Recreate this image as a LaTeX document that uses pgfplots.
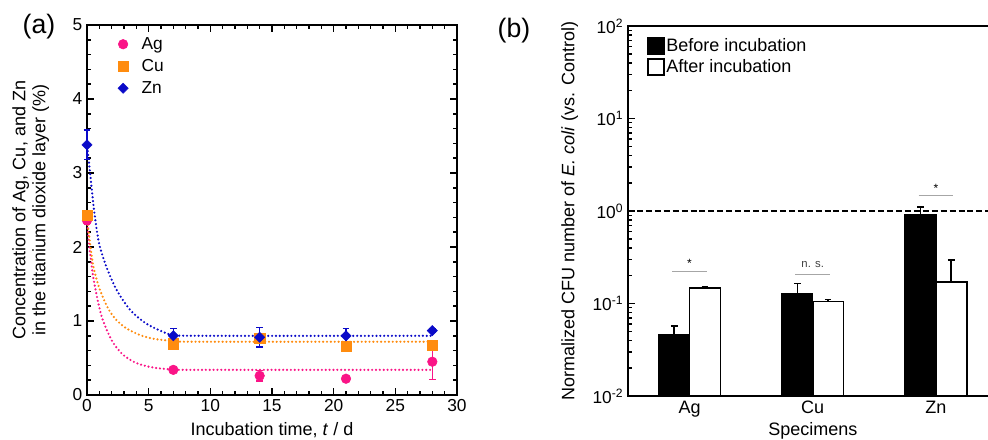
\documentclass[border=0pt]{standalone}
\usepackage{fontspec}
\setmainfont{Liberation Sans}
\usepackage{pgfplots}
\pgfplotsset{compat=1.18}
\definecolor{cAg}{RGB}{250,20,135}
\definecolor{cCu}{RGB}{255,140,15}
\definecolor{cZn}{RGB}{10,10,200}
\tikzset{fitdots/.style={line width=1.8pt, line cap=round, dash pattern=on 0pt off 2.9pt}}
\pgfplotsset{
  panel/.style={
    scale only axis,
    tick align=inside,
    major tick length=5pt, minor tick length=3pt,
    every tick/.style={black, line width=1.1pt},
    axis line style={line width=1.5pt},
    ticklabel style={font=\fontsize{13}{15}\selectfont},
    /pgf/number format/assume math mode=true,
    every axis x label/.style={font=\fontsize{13.5}{15}\selectfont, anchor=center},
    every axis y label/.style={font=\fontsize{13.5}{15}\selectfont, anchor=center, rotate=90, align=center},
  },
  errA/.style={error bars/.cd, y dir=both, y explicit,
    error bar style={line width=1pt},
    error mark options={rotate=90, mark size=2.5pt, line width=1pt}},
  errB/.style={error bars/.cd, y dir=plus, y explicit,
    error bar style={line width=1.2pt, black},
    error mark options={rotate=90, mark size=2.5pt, line width=1.2pt, black}},
}
\begin{document}
\begin{tikzpicture}
\path[use as bounding box, clip] (0,0) rectangle (741pt,329.25pt);

% (a) concentration vs incubation time
\begin{axis}[panel,
  at={(65.25pt,33pt)}, anchor=south west,
  width=277.5pt, height=277.5pt,
  xmin=0, xmax=30, ymin=0, ymax=5,
  xtick={0,5,...,30}, ytick={0,1,...,5},
  minor x tick num=4, minor y tick num=4,
  xlabel={Incubation time, \textit{t} / d},
  ylabel={Concentration of Ag, Cu, and Zn\\in the titanium dioxide layer (\%)},
  x label style={at={(axis description cs:0.5,-0.095)}},
  y label style={at={(axis description cs:-0.152,0.5)}},
  legend image code/.code={\draw[#1] plot coordinates {(0.2cm,0cm)};},
  legend style={at={(0.072,0.982)}, anchor=north west, draw=none, fill=none,
    font=\fontsize{13}{15}\selectfont, cells={anchor=west}, row sep=2pt,
    /tikz/every odd column/.append style={column sep=8pt}},
  clip=false,
]
\addplot[cAg, fitdots, smooth, forget plot] coordinates {
  (0,2.36) (0.19,2.0) (0.33,1.82) (0.46,1.64) (0.65,1.46) (0.92,1.24)
  (1.19,1.06) (1.6,0.88) (2.14,0.70) (2.95,0.54) (4.03,0.43) (5.4,0.37)
  (7,0.345) (9,0.34) (28,0.34)};
\addplot[cCu, fitdots, smooth, forget plot] coordinates {
  (0,2.40) (0.25,2.05) (0.5,1.75) (0.8,1.55) (1.05,1.42) (1.45,1.26)
  (1.85,1.13) (2.4,1.01) (3.2,0.90) (4.3,0.81) (5.4,0.76) (7,0.73)
  (9,0.72) (28,0.72)};
\addplot[cZn, fitdots, smooth, forget plot] coordinates {
  (0,3.40) (0.25,3.0) (0.5,2.6) (0.8,2.22) (1.05,2.0) (1.6,1.72)
  (2.4,1.42) (3.5,1.15) (4.85,0.96) (6.5,0.83) (7,0.815) (9,0.80) (28,0.80)};

\addplot[cAg, only marks, mark=*, mark size=3.6pt, errA] coordinates {
  (0,2.36) +- (0,0.05) (7,0.34) +- (0,0.03) (14,0.26) +- (0,0.07)
  (21,0.22) +- (0,0.04) (28,0.45) +- (0,0.24)};
\addlegendentry{Ag}
\addplot[cCu, only marks, mark=square*, mark size=3.9pt, errA] coordinates {
  (0,2.43) +- (0,0.05) (7,0.69) +- (0,0.03) (14,0.77) +- (0,0.06)
  (21,0.66) +- (0,0.03) (28,0.67) +- (0,0.05)};
\addlegendentry{Cu}
\addplot[cZn, only marks, mark=square*, mark options={rotate=45}, mark size=2.7pt, errA] coordinates {
  (0,3.38) +- (0,0.2) (7,0.80) +- (0,0.1) (14,0.78) +- (0,0.13)
  (21,0.80) +- (0,0.1) (28,0.87) +- (0,0.02)};
\addlegendentry{Zn}
\end{axis}

% (b) normalized CFU, log scale; bars sit at category -/+ 0.125
\begin{axis}[panel,
  at={(471pt,32.25pt)}, anchor=south west,
  width=281.7pt, height=277.5pt,
  xmin=-0.5, xmax=2.55,
  ymode=log, ymin=0.01, ymax=100, log origin=infty,
  xtick={0,1,2}, xticklabels={Ag,Cu,Zn},
  x tick label style={font=\fontsize{13.5}{15}\selectfont},
  xtick style={draw=none},
  ytick={0.01,0.1,1,10,100},
  yticklabels={10\textsuperscript{-2},10\textsuperscript{-1},10\textsuperscript{0},10\textsuperscript{1},10\textsuperscript{2}},
  ytick pos=left,
  xlabel={Specimens},
  ylabel={Normalized CFU number of \textit{E. coli} (vs. Control)},
  x label style={at={(axis description cs:0.4925,-0.095)}},
  y label style={at={(axis description cs:-0.155,0.5)}},
  legend image code/.code={\draw[#1, line width=1.1pt] (0pt,-6pt) rectangle (12pt,6pt);},
  legend style={at={(0.04,0.978)}, anchor=north west, draw=none, fill=none,
    font=\fontsize{13.5}{15}\selectfont, cells={anchor=west},
    nodes={inner sep=1.2pt}, row sep=2pt},
]
\addplot[ybar, bar width=0.25, bar shift=0pt, fill=black, draw=black, line width=1pt, errB]
  coordinates {(-0.125,0.0457) +- (0,0.0113) (0.875,0.129) +- (0,0.036) (1.875,0.905) +- (0,0.205)};
\addlegendentry{Before incubation}
\addplot[ybar, bar width=0.25, bar shift=0pt, fill=white, draw=black, line width=1.3pt, errB]
  coordinates {(0.125,0.146) +- (0,0.004) (1.125,0.105) +- (0,0.006) (2.125,0.17) +- (0,0.125)};
\addlegendentry{After incubation}

\addplot[black, line width=1.5pt, dash pattern=on 4.5pt off 2.2pt, forget plot]
  coordinates {(-0.5,1) (2.55,1)};

\addplot[gray!70, line width=0.8pt, forget plot] coordinates {(-0.14,0.22) (0.14,0.22)};
\addplot[gray!70, line width=0.8pt, forget plot] coordinates {(0.86,0.208) (1.14,0.208)};
\addplot[gray!70, line width=0.8pt, forget plot] coordinates {(1.86,1.46) (2.14,1.46)};
\node[font=\fontsize{9}{10}\selectfont] at (axis cs:0,0.27) {*};
\node[font=\fontsize{8.5}{10}\selectfont, text=black!75] at (axis cs:1,0.267) {n. s.};
\node[font=\fontsize{9}{10}\selectfont] at (axis cs:2,1.76) {*};
\end{axis}

\node[font=\fontsize{20}{22}\selectfont] at (29.25pt,309pt) {(a)};
\node[font=\fontsize{20}{22}\selectfont] at (385.5pt,306pt) {(b)};
\end{tikzpicture}
\end{document}
